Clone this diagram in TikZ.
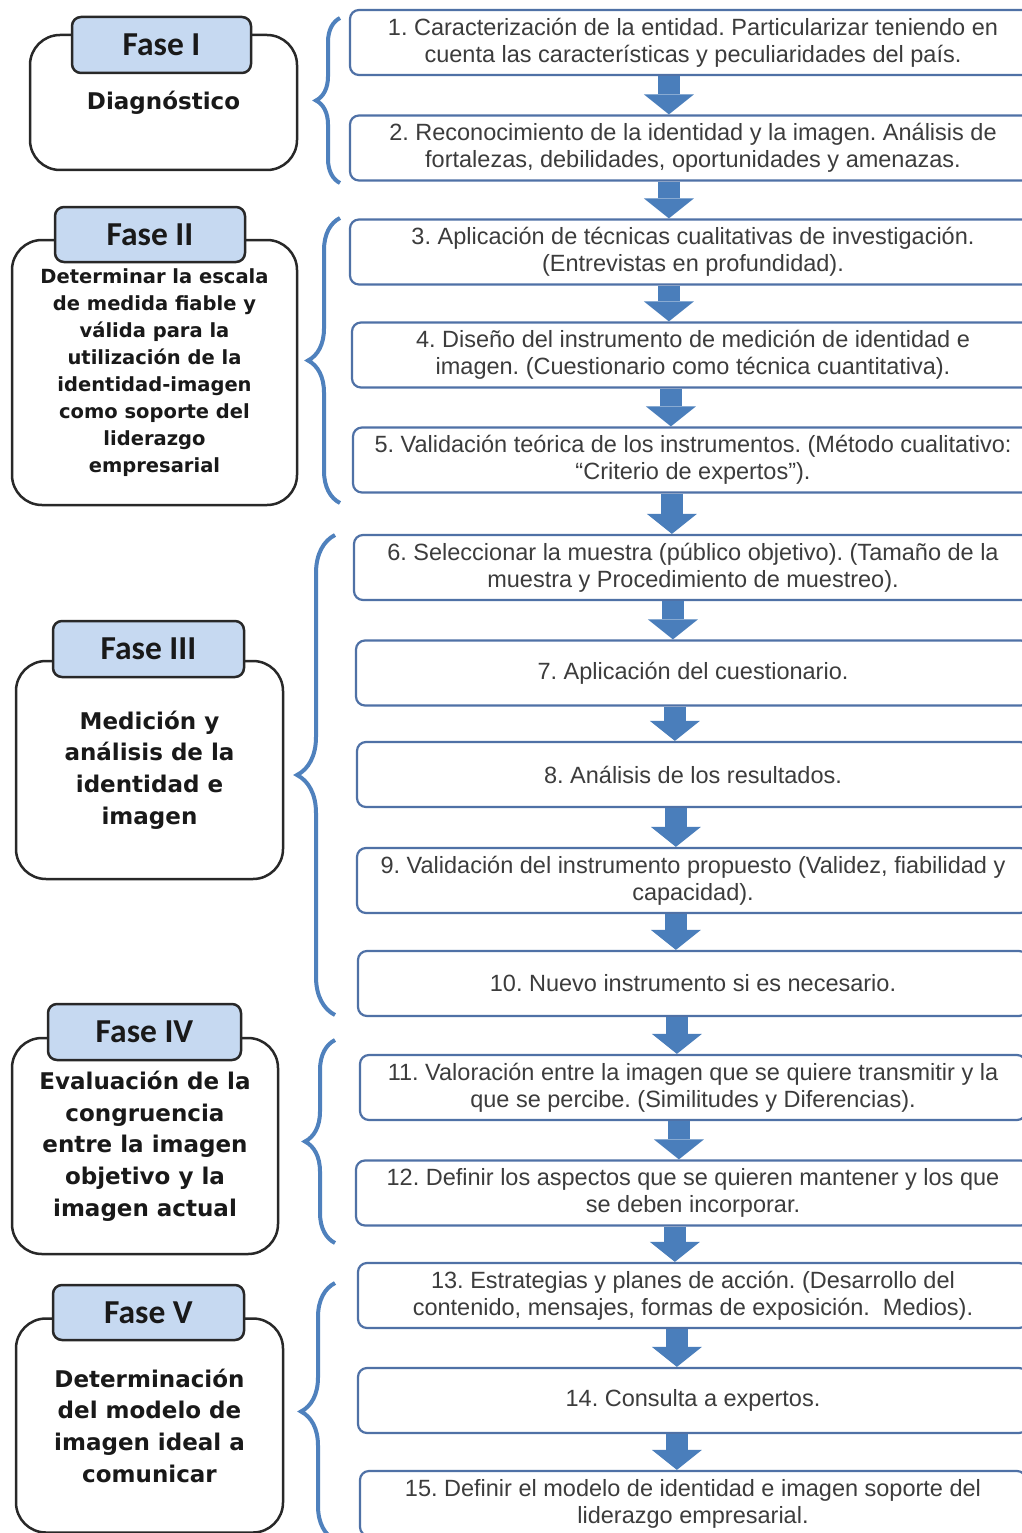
\documentclass[tikz,border=0pt]{standalone}
\usepackage{fontspec}
\setmainfont{Liberation Sans}
\newfontfamily\phasefont{DejaVu Sans}
\newfontfamily\tabfont{Carlito}
\usetikzlibrary{arrows.meta,decorations.pathreplacing}
\definecolor{stepline}{RGB}{79,113,166}
\definecolor{flowblue}{RGB}{74,126,187}
\definecolor{bracecol}{RGB}{79,129,189}
\definecolor{tabfill}{RGB}{198,217,241}
\definecolor{steptext}{RGB}{60,60,60}
\definecolor{phaseline}{RGB}{40,40,40}
\frenchspacing
\begin{document}
\begin{tikzpicture}[x=1pt, y=-1pt,
    stepbox/.style={rectangle, draw=stepline, line width=2.2pt,
      rounded corners=9pt, minimum height=65pt, inner sep=0pt,
      align=center, text=steptext, font=\fontsize{23.5}{27}\selectfont},
    phasebox/.style={rectangle, draw=phaseline, line width=2.5pt,
      rounded corners=30pt, inner sep=0pt, align=center, text=black!90,
      font=\phasefont\bfseries\fontsize{23}{31.7}\selectfont},
    tabbox/.style={rectangle, draw=phaseline, fill=tabfill, line width=2.5pt,
      rounded corners=9pt, inner sep=0pt, text=black!90,
      font=\tabfont\bfseries\fontsize{33.5}{36}\selectfont},
    flow/.style={draw=flowblue, line width=22pt,
      -{Triangle[length=20pt, width=50pt, line width=0pt]}},
    phasebrace/.style={draw=bracecol, line width=4pt, decorate,
      decoration={brace, amplitude=#1}},
  ]
  \path[fill=white, use as bounding box] (0,0) rectangle (1022,1533);

  % fases
  \node[phasebox, minimum width=267pt, minimum height=135pt] (phase1) at (163.5,102.5)
  {Diagnóstico};
  \node[tabbox, minimum width=179pt, minimum height=56pt] (tab1) at (161.5,45) {Fase I};

  \node[phasebox, minimum width=285pt, minimum height=265pt,
    font=\phasefont\bfseries\fontsize{19.5}{27}\selectfont] (phase2) at (154.5,372.5)
  {Determinar la escala\\de medida fiable y\\válida para la\\utilización de la\\
    identidad-imagen\\como soporte del\\liderazgo\\empresarial};
  \node[tabbox, minimum width=190pt, minimum height=55pt] (tab2) at (150,234.5) {Fase II};

  \node[phasebox, minimum width=267pt, minimum height=218pt] (phase3) at (149.5,770)
  {Medición y\\análisis de la\\identidad e\\imagen};
  \node[tabbox, minimum width=191pt, minimum height=56pt] (tab3) at (148.5,649) {Fase III};

  \node[phasebox, minimum width=266pt, minimum height=216pt] (phase4) at (145,1146)
  {Evaluación de la\\congruencia\\entre la imagen\\objetivo y la\\imagen actual};
  \node[tabbox, minimum width=193pt, minimum height=56pt] (tab4) at (144.5,1032) {Fase IV};

  \node[phasebox, minimum width=267pt, minimum height=214pt] (phase5) at (149.5,1425.5)
  {Determinación\\del modelo de\\imagen ideal a\\comunicar};
  \node[tabbox, minimum width=191pt, minimum height=55pt] (tab5) at (148.5,1312.5) {Fase V};

  % llaves
  \draw[phasebrace=24pt] (340,183) -- (340,18);
  \draw[phasebrace=32pt] (340,503) -- (340,218);
  \draw[phasebrace=38pt] (335,1015) -- (335,535);
  \draw[phasebrace=30pt] (335,1243) -- (335,1040);
  \draw[phasebrace=34pt] (335,1540) -- (335,1283);

  % pasos
  \node[stepbox, minimum width=686pt] (step1) at (693,42.5)
  {1. Caracterización de la entidad. Particularizar teniendo en\\
    cuenta las características y peculiaridades del país.};
  \node[stepbox, minimum width=686pt] (step2) at (693,148)
  {2. Reconocimiento de la identidad y la imagen. Análisis de\\
    fortalezas, debilidades, oportunidades y amenazas.};
  \node[stepbox, minimum width=686pt] (step3) at (693,252)
  {3. Aplicación de técnicas cualitativas de investigación.\\
    (Entrevistas en profundidad).};
  \node[stepbox, minimum width=682pt] (step4) at (693,355)
  {4. Diseño del instrumento de medición de identidad e\\
    imagen. (Cuestionario como técnica cuantitativa).};
  \node[stepbox, minimum width=680pt] (step5) at (693,460)
  {5. Validación teórica de los instrumentos. (Método cualitativo:\\
    “Criterio de expertos”).};
  \node[stepbox, minimum width=678pt] (step6) at (693,567.5)
  {6. Seleccionar la muestra (público objetivo). (Tamaño de la\\
    muestra y Procedimiento de muestreo).};
  \node[stepbox, minimum width=674pt] (step7) at (693,673)
  {7. Aplicación del cuestionario.};
  \node[stepbox, minimum width=672pt] (step8) at (693,774.5)
  {8. Análisis de los resultados.};
  \node[stepbox, minimum width=672pt] (step9) at (693,880.5)
  {9. Validación del instrumento propuesto (Validez, fiabilidad y\\
    capacidad).};
  \node[stepbox, minimum width=670pt] (step10) at (693,983.5)
  {10. Nuevo instrumento si es necesario.};
  \node[stepbox, minimum width=666pt] (step11) at (693,1087.5)
  {11. Valoración entre la imagen que se quiere transmitir y la\\
    que se percibe. (Similitudes y Diferencias).};
  \node[stepbox, minimum width=674pt] (step12) at (693,1193)
  {12. Definir los aspectos que se quieren mantener y los que\\
    se deben incorporar.};
  \node[stepbox, minimum width=670pt] (step13) at (693,1295.5)
  {13. Estrategias y planes de acción. (Desarrollo del\\
    contenido, mensajes, formas de exposición.~ Medios).};
  \node[stepbox, minimum width=670pt] (step14) at (693,1400.5)
  {14. Consulta a expertos.};
  \node[stepbox, minimum width=666pt] (step15) at (693,1503.5)
  {15. Definir el modelo de identidad e imagen soporte del\\
    liderazgo empresarial.};

  % flechas entre pasos
  \foreach \i [evaluate=\i as \j using int(\i+1)] in {1,...,14} {
    \coordinate (out\i) at ([xshift=320pt]step\i.south west);
    \draw[flow] (out\i) -- (out\i |- step\j.north);
  }
\end{tikzpicture}
\end{document}
